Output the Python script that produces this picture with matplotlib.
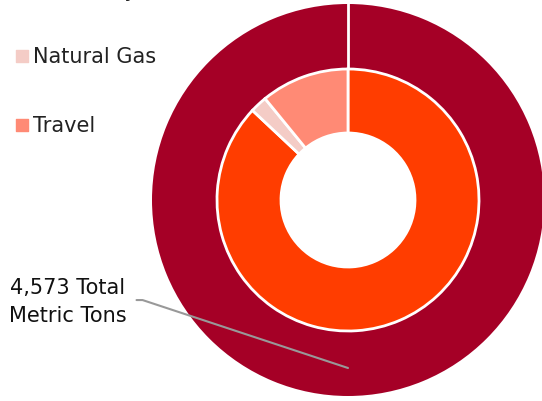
import matplotlib.pyplot as plt

# emissions by source, metric tons
sources = ["Electricity", "Natural Gas", "Travel"]
tons = [3978, 96, 499]
total = 4573
colors = ["#FF3D00", "#F4CCC6", "#FF8A75"]
ring_color = "#A50026"

fig = plt.figure(figsize=(5.42, 4.02), dpi=100)
ax = fig.add_axes([0, 0, 1, 1])

cx, cy = 348, 201
r_out, r_in, r_hole = 196, 131, 67

# outer ring = total
ax.pie([total], radius=r_out, center=(cx, cy), colors=[ring_color],
       startangle=90, counterclock=False, frame=True,
       wedgeprops=dict(width=r_out - r_in + 2, edgecolor="none"))
ax.plot([cx, cx], [cy + r_in, 402], color="white", lw=2, zorder=3)

# inner ring = by source (clockwise from top)
wedges, _ = ax.pie(tons, radius=r_in, center=(cx, cy), colors=colors,
                   startangle=90, counterclock=False, frame=True,
                   wedgeprops=dict(width=r_in - r_hole, edgecolor="white", linewidth=2))
for w in wedges:
    w.set_zorder(4)
ax.set_xlim(0, 542)
ax.set_ylim(0, 402)
ax.set_aspect("equal")
ax.axis("off")

# legend entries, first one is cropped off the top
leg_y = [402 + 9, 402 - 57, 402 - 126]
for name, c, y in zip(sources, colors, leg_y):
    ax.scatter([21.5], [y], marker="s", s=70, color=c, zorder=5, clip_on=False)
    ax.text(33, y, name, fontsize=15, color="#222222", va="center", ha="left",
            family="DejaVu Sans")

ax.annotate("{:,} Total\nMetric Tons".format(total), xy=(cx, 402 - 369),
            xytext=(68, 402 - 302), ha="center", va="center", fontsize=15,
            color="#111111", linespacing=1.45, zorder=6,
            arrowprops=dict(arrowstyle="-", color="#999999", lw=1.5,
                            connectionstyle="angle,angleA=0,angleB=-18.3,rad=0",
                            shrinkA=5, shrinkB=0, relpos=(1.0, 0.52)))

fig.savefig("out.png", dpi=100)
